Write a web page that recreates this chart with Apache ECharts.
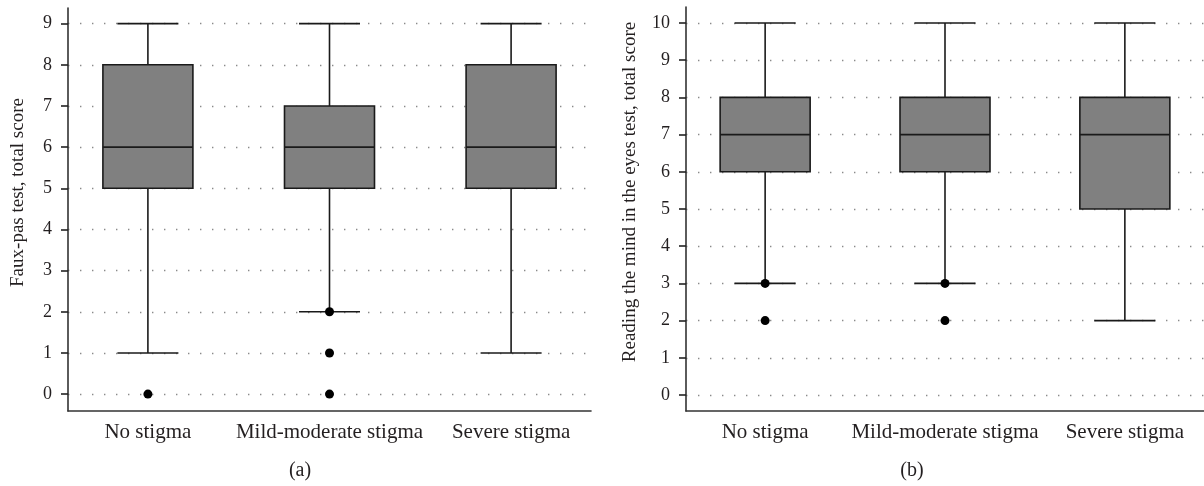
<!DOCTYPE html>
<html>
<head>
    <meta charset="UTF-8">
    <title></title>
    <script type="text/javascript" src="https://cdn.jsdelivr.net/npm/echarts@6/dist/echarts.min.js"></script>
    <style type="text/css">
        html, body { margin: 0; padding: 0; background: #fff; }
        #chart { width: 1204px; height: 486px; }
    </style>
</head>
<body>
<div id="chart"></div>

<script type="text/javascript">
    // groups on the x axis
    var categories = ['No stigma', 'Mild-moderate stigma', 'Severe stigma'];

    // (a) faux-pas test: [min, Q1, median, Q3, max]
    var fauxPasBoxes = [
        [1, 5, 6, 8, 9],
        [2, 5, 6, 7, 9],
        [1, 5, 6, 8, 9]
    ];
    // outliers: [group index, score]
    var fauxPasOutliers = [[0, 0], [1, 2], [1, 1], [1, 0]];

    // (b) reading the mind in the eyes test
    var eyesBoxes = [
        [3, 6, 7, 8, 10],
        [3, 6, 7, 8, 10],
        [2, 5, 7, 8, 10]
    ];
    var eyesOutliers = [[0, 3], [0, 2], [1, 3], [1, 2]];

    var fauxPasTicks = [0, 1, 2, 3, 4, 5, 6, 7, 8, 9];
    var eyesTicks = [0, 1, 2, 3, 4, 5, 6, 7, 8, 9, 10];
    var groupTicks = [0, 1, 2];

    var font = 'Liberation Serif';
    var ink = '#231f20';

    function withIndex(boxes) {
        var out = [];
        for (var i = 0; i < boxes.length; i++) {
            out.push([i].concat(boxes[i]));
        }
        return out;
    }

    // box 90px wide, whisker caps 61px wide
    function renderBox(params, api) {
        var x = api.value(0);
        var pMin = api.coord([x, api.value(1)]);
        var pQ1 = api.coord([x, api.value(2)]);
        var pMed = api.coord([x, api.value(3)]);
        var pQ3 = api.coord([x, api.value(4)]);
        var pMax = api.coord([x, api.value(5)]);
        var cx = pMed[0];
        var hb = 45, hc = 30.5;
        var line = { stroke: '#1a1a1a', lineWidth: 1.6 };
        return {
            type: 'group',
            children: [
                { type: 'line', shape: { x1: cx, y1: pMax[1], x2: cx, y2: pQ3[1] }, style: line },
                { type: 'line', shape: { x1: cx, y1: pQ1[1], x2: cx, y2: pMin[1] }, style: line },
                { type: 'line', shape: { x1: cx - hc, y1: pMax[1], x2: cx + hc, y2: pMax[1] }, style: line },
                { type: 'line', shape: { x1: cx - hc, y1: pMin[1], x2: cx + hc, y2: pMin[1] }, style: line },
                { type: 'rect', shape: { x: cx - hb, y: pQ3[1], width: hb * 2, height: pQ1[1] - pQ3[1] },
                    style: { fill: '#808080', stroke: '#1a1a1a', lineWidth: 1.6 } },
                { type: 'line', shape: { x1: cx - hb, y1: pMed[1], x2: cx + hb, y2: pMed[1] }, style: line }
            ]
        };
    }

    function xAxisFor(gridIndex) {
        return {
            type: 'value',
            gridIndex: gridIndex,
            min: -0.44,
            max: 2.44,
            axisLine: { show: true, onZero: false, lineStyle: { color: '#333', width: 1.6 } },
            axisTick: { show: false },
            splitLine: { show: false },
            axisLabel: {
                customValues: groupTicks,
                margin: 11,
                fontFamily: font,
                fontSize: 21,
                color: ink,
                formatter: function (v) { return categories[Math.round(v)]; }
            }
        };
    }

    function yAxisFor(gridIndex, min, max, ticks, name, gap) {
        return {
            type: 'value',
            gridIndex: gridIndex,
            min: min,
            max: max,
            name: name,
            nameLocation: 'middle',
            nameGap: gap,
            nameTextStyle: { fontFamily: font, fontSize: 19, color: ink, padding: [0, 0, 0, 34] },
            axisLine: { show: true, onZero: false, lineStyle: { color: '#333', width: 1.6 } },
            axisTick: { show: true, customValues: ticks, length: 7, lineStyle: { color: '#222', width: 1.6 } },
            axisLabel: { customValues: ticks, margin: 16, fontFamily: font, fontSize: 18, color: ink },
            splitLine: { show: true, lineStyle: { color: '#8a8a8a', width: 1.4, type: [1.4, 10.6] } }
        };
    }

    var myChart = echarts.init(document.getElementById('chart'));
    myChart.setOption({
        animation: false,
        backgroundColor: '#fff',
        title: [
            { text: '(a)', left: 295, top: 456, textAlign: 'center',
                textStyle: { fontFamily: font, fontSize: 20, fontWeight: 'normal', color: ink } },
            { text: '(b)', left: 907, top: 456, textAlign: 'center',
                textStyle: { fontFamily: font, fontSize: 20, fontWeight: 'normal', color: ink } }
        ],
        grid: [
            { left: 68, top: 8, width: 523, height: 403 },
            { left: 686, top: 7, width: 523, height: 404 }
        ],
        xAxis: [xAxisFor(0), xAxisFor(1)],
        yAxis: [
            yAxisFor(0, -0.41, 9.38, fauxPasTicks, 'Faux-pas test, total score', 40),
            yAxisFor(1, -0.43, 10.43, eyesTicks, 'Reading the mind in the eyes test, total score', 46)
        ],
        series: [
            { type: 'custom', xAxisIndex: 0, yAxisIndex: 0, renderItem: renderBox,
                encode: { x: 0, y: [1, 2, 3, 4, 5] }, data: withIndex(fauxPasBoxes) },
            { type: 'scatter', xAxisIndex: 0, yAxisIndex: 0, symbolSize: 9,
                itemStyle: { color: '#000', opacity: 1 }, data: fauxPasOutliers, z: 3 },
            { type: 'custom', xAxisIndex: 1, yAxisIndex: 1, renderItem: renderBox,
                encode: { x: 0, y: [1, 2, 3, 4, 5] }, data: withIndex(eyesBoxes) },
            { type: 'scatter', xAxisIndex: 1, yAxisIndex: 1, symbolSize: 9,
                itemStyle: { color: '#000', opacity: 1 }, data: eyesOutliers, z: 3 }
        ]
    });
</script>
</body>
</html>
